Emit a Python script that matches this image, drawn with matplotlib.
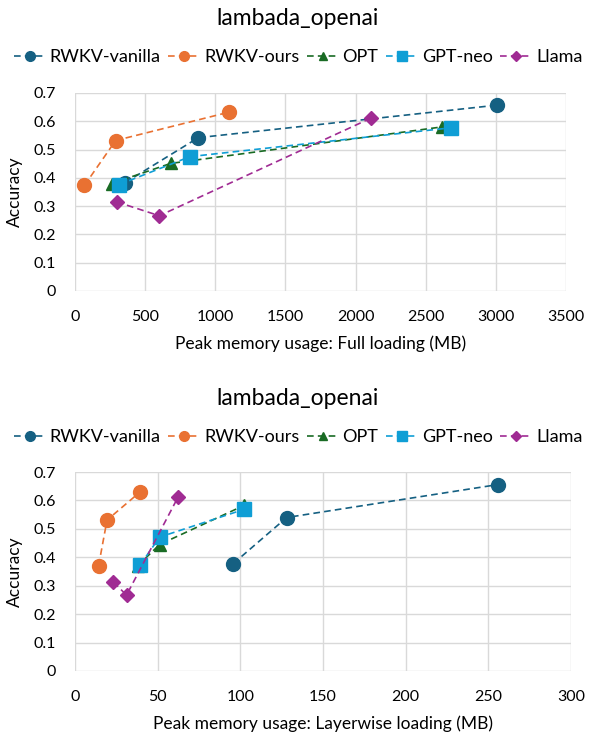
import matplotlib
matplotlib.use("Agg")
import matplotlib.pyplot as plt

plt.rcParams['font.family'] = ['Lato', 'DejaVu Sans']

names = ["RWKV-vanilla", "RWKV-ours", "OPT", "GPT-neo", "Llama"]
colors = ["#156082", "#E97132", "#196B24", "#0F9ED5", "#A02B93"]
markers = ["o", "o", "^", "s", "D"]
msizes = [10, 10, 9, 10, 7]

# full loading (MB) / accuracy
full_x = [[357, 879, 3008], [67, 290, 1096], [262, 682, 2614], [314, 820, 2681], [297, 601, 2113]]
full_y = [[0.383, 0.542, 0.657], [0.373, 0.532, 0.632], [0.380, 0.451, 0.580],
          [0.376, 0.475, 0.577], [0.315, 0.266, 0.612]]

# layerwise loading (MB) / accuracy
layer_x = [[95.8, 128.1, 256], [14.3, 19.4, 39.2], [37.9, 51.2, 102.5], [39.3, 51.2, 102.5], [23.2, 31.2, 62.3]]
layer_y = [[0.378, 0.540, 0.656], [0.371, 0.531, 0.629], [0.370, 0.445, 0.583],
           [0.372, 0.471, 0.569], [0.313, 0.267, 0.611]]

fig = plt.figure(figsize=(5.96, 7.38), dpi=100)


def panel(rect, xs, ys, xlim, xstep, xlabel, title_y, legend_y):
    ax = fig.add_axes(rect)
    for i in range(len(names)):
        ax.plot(xs[i], ys[i], linestyle=(0, (4, 2.5)), linewidth=1.2, color=colors[i],
                marker=markers[i], markersize=msizes[i], label=names[i])
    ax.set_xlim(0, xlim)
    ax.set_ylim(0, 0.7)
    ax.set_xticks(range(0, xlim + 1, xstep))
    ax.set_yticks([0, 0.1, 0.2, 0.3, 0.4, 0.5, 0.6, 0.7])
    ax.set_yticklabels(["0", "0.1", "0.2", "0.3", "0.4", "0.5", "0.6", "0.7"])
    ax.grid(True, color="#D9D9D9", linewidth=1)
    ax.set_axisbelow(True)
    for s in ax.spines.values():
        s.set_visible(False)
    ax.tick_params(length=0, labelsize=11.5, colors="#000000")
    ax.tick_params(axis="x", pad=14)
    ax.tick_params(axis="y", pad=14)
    ax.set_xlabel(xlabel, fontsize=12.5, labelpad=8)
    ax.set_ylabel("Accuracy", fontsize=12.5, labelpad=7)
    fig.text(0.5, title_y, "lambada_openai", ha="center", va="center", fontsize=16.5)
    fig.legend(*ax.get_legend_handles_labels(), loc="center", bbox_to_anchor=(0.5, legend_y),
               ncol=5, frameon=False, fontsize=13, handlelength=1.8, handletextpad=0.2,
               columnspacing=0.4, markerscale=0.7)
    return ax


panel([0.1258, 0.6057, 0.824, 0.2683], full_x, full_y, 3500, 500,
      "Peak memory usage: Full loading (MB)", 0.9756, 0.9228)
panel([0.1258, 0.0908, 0.832, 0.2696], layer_x, layer_y, 300, 50,
      "Peak memory usage: Layerwise loading (MB)", 0.4607, 0.4079)

fig.savefig("out.png", dpi=100)
